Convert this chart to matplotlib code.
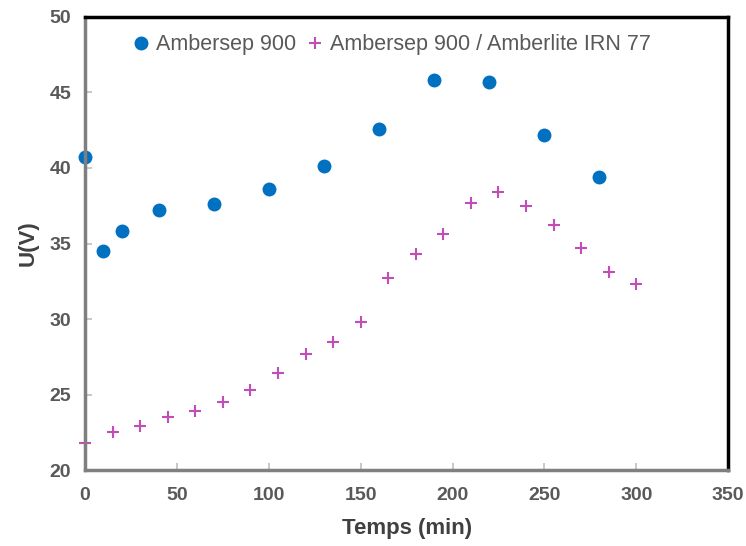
import matplotlib.pyplot as plt

# Ambersep 900
t_a = [0, 10, 20, 40, 70, 100, 130, 160, 190, 220, 250, 280]
u_a = [40.7, 34.5, 35.8, 37.2, 37.6, 38.6, 40.1, 42.6, 45.8, 45.7, 42.2, 39.4]

# Ambersep 900 / Amberlite IRN 77
t_b = [0, 15, 30, 45, 60, 75, 90, 105, 120, 135, 150, 165, 180, 195, 210,
       225, 240, 255, 270, 285, 300]
u_b = [21.8, 22.5, 22.9, 23.5, 23.9, 24.5, 25.3, 26.4, 27.7, 28.5, 29.8,
       32.7, 34.3, 35.6, 37.7, 38.4, 37.5, 36.2, 34.7, 33.1, 32.3]

xticks = [0, 50, 100, 150, 200, 250, 300, 350]
yticks = [20, 25, 30, 35, 40, 45, 50]

plt.rcParams['font.family'] = ['Liberation Sans', 'DejaVu Sans']

fig = plt.figure(figsize=(7.46, 5.46), dpi=100)
ax = fig.add_axes([0.114, 0.139, 0.862, 0.83])

ax.plot(t_a, u_a, 'o', color='#0070C0', markersize=9, label='Ambersep 900', clip_on=False)
ax.plot(t_b, u_b, '+', color='#C24DB8', markersize=9, markeredgewidth=1.5,
        label='Ambersep 900 / Amberlite IRN 77', clip_on=False)

ax.set_xlim(0, 350)
ax.set_ylim(20, 50)
ax.set_xticks(xticks)
ax.set_yticks(yticks)

for s in ['top', 'right']:
    ax.spines[s].set_color('black')
    ax.spines[s].set_linewidth(2.5)
for s in ['left', 'bottom']:
    ax.spines[s].set_color('#7f7f7f')
    ax.spines[s].set_linewidth(2.5)

ax.tick_params(direction='in', length=5, width=1.2, color='#bfbfbf',
               labelsize=14, labelcolor='#595959')
ax.tick_params(axis='x', pad=12)
ax.tick_params(axis='y', pad=10)
for lb in ax.get_xticklabels() + ax.get_yticklabels():
    lb.set_fontweight('bold')

ax.set_xlabel('Temps (min)', fontsize=16, fontweight='bold', color='#404040', labelpad=10)
ax.set_ylabel('U(V)', fontsize=16, fontweight='bold', color='#404040', labelpad=8)

leg = ax.legend(loc='upper center', bbox_to_anchor=(0.475, 1.005), ncol=2, frameon=False,
                fontsize=15.5, handlelength=1.0, handletextpad=0.2, columnspacing=0.4,
                markerscale=1.0)
for txt in leg.get_texts():
    txt.set_color('#595959')

fig.savefig('out.png', dpi=100)
